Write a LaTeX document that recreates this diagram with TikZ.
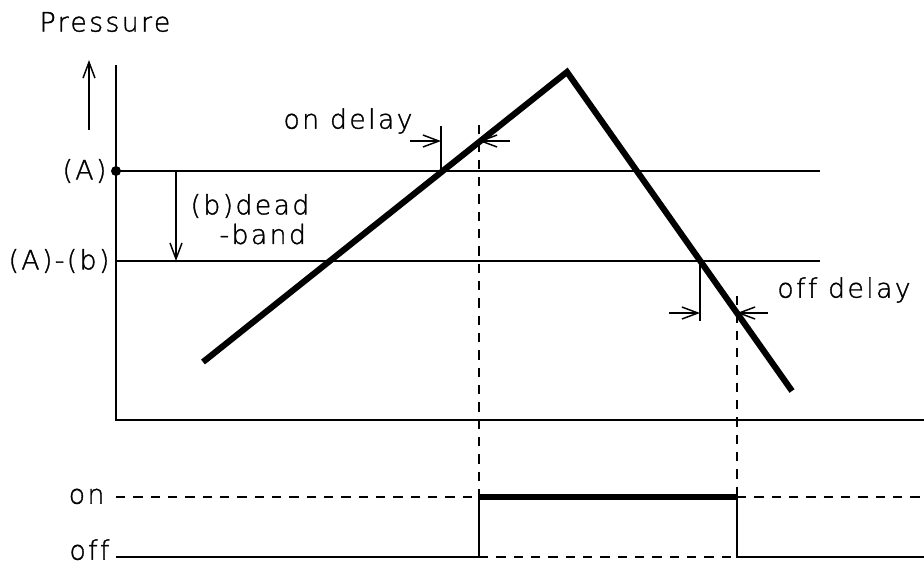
\documentclass[tikz,border=0pt]{standalone}
\usepackage{fontspec}
\setmainfont{DejaVu Sans ExtraLight}[LetterSpace=9,Ligatures={NoCommon},FakeBold=1.3]
\usetikzlibrary{arrows.meta}

\tikzset{
  thin line/.style={line width=1.1pt},
  axis line/.style={line width=2.2pt},
  curve line/.style={line width=4.6pt,line join=miter},
  guide line/.style={line width=1.1pt,dash pattern=on 7pt off 6pt},
  lbl/.style={font=\fontsize{20}{23}\selectfont,inner sep=1pt},
}

\begin{document}
\begin{tikzpicture}[x=0.75pt,y=-0.75pt,>={Straight Barb[length=12pt,width=9pt]}]
  \useasboundingbox (0,0) rectangle (924,569);
  % axes
  \coordinate (top) at (116,65);
  \coordinate (orig) at (116,420);
  \coordinate (xend) at (924,420);
  \draw[axis line] (top) -- (orig) -- (xend);
  \coordinate (up0) at (89,130);
  \coordinate (up1) at (89,60);
  \draw[thin line,->] (up0) -- (up1);
  \node[lbl] (pres) at (105,22) {Pressure};
  % levels
  \coordinate (A) at (116,171);
  \coordinate (Aend) at (820,171);
  \coordinate (Ab) at (116,261);
  \coordinate (Abend) at (820,261);
  \draw[thin line] (A) -- (Aend);
  \draw[thin line] (Ab) -- (Abend);
  \fill (A) circle (5);
  \node[lbl,anchor=east] (labA) at (108,171) {(A)};
  \node[lbl,anchor=east] (labAb) at (111,261) {(A)-(b)};
  \coordinate (db0) at (176,171);
  \coordinate (db1) at (176,261);
  \draw[thin line,->] (db0) -- (db1);
  \node[lbl,anchor=west] (dead) at (189,206) {(b)dead};
  \node[lbl,anchor=west] (band) at (218,234) {-band};
  % pressure curve
  \coordinate (p0) at (203,362);
  \coordinate (peak) at (567,72);
  \coordinate (p1) at (792,391);
  \draw[curve line] (p0) -- (peak) -- (p1);
  % on delay
  \coordinate (on0) at (441,171);
  \coordinate (on0t) at (441,126);
  \draw[thin line] (on0) -- (on0t);
  \coordinate (onA) at (410,141);
  \coordinate (onB) at (441,141);
  \draw[thin line,->] (onA) -- (onB);
  \coordinate (onC) at (510,141);
  \coordinate (onD) at (479,141);
  \draw[thin line,->] (onC) -- (onD);
  \node[lbl] (ondelay) at (348,121) {on delay};
  % off delay
  \coordinate (off0) at (700,261);
  \coordinate (off0b) at (700,321);
  \draw[thin line] (off0) -- (off0b);
  \coordinate (offA) at (669,313);
  \coordinate (offB) at (700,313);
  \draw[thin line,->] (offA) -- (offB);
  \coordinate (offC) at (768,313);
  \coordinate (offD) at (737,313);
  \draw[thin line,->] (offC) -- (offD);
  \node[lbl] (offdelay) at (844,290) {off delay};
  % guides
  \coordinate (g1top) at (479,125);
  \coordinate (g2top) at (737,296);
  \coordinate (g1on) at (479,497);
  \coordinate (g2on) at (737,497);
  \coordinate (g1off) at (479,557);
  \coordinate (g2off) at (737,557);
  \draw[guide line] (g1top) -- (g1on);
  \draw[guide line] (g2top) -- (g2on);
  % output state
  \coordinate (onL) at (116,497);
  \coordinate (onR) at (924,497);
  \coordinate (offL) at (116,557);
  \coordinate (offR) at (924,557);
  \node[lbl,anchor=mid east] (labon) at (106,500) {on};
  \node[lbl,anchor=mid east] (laboff) at (111,556) {off};
  \draw[guide line] (onL) -- (g1on);
  \draw[guide line] (g2on) -- (onR);
  \draw[guide line] (g1off) -- (g2off);
  \draw[thin line] (offL) -- (g1off) -- (g1on);
  \draw[thin line] (g2on) -- (g2off) -- (offR);
  \draw[line width=4.6pt] (g1on) -- (g2on);
\end{tikzpicture}
\end{document}
